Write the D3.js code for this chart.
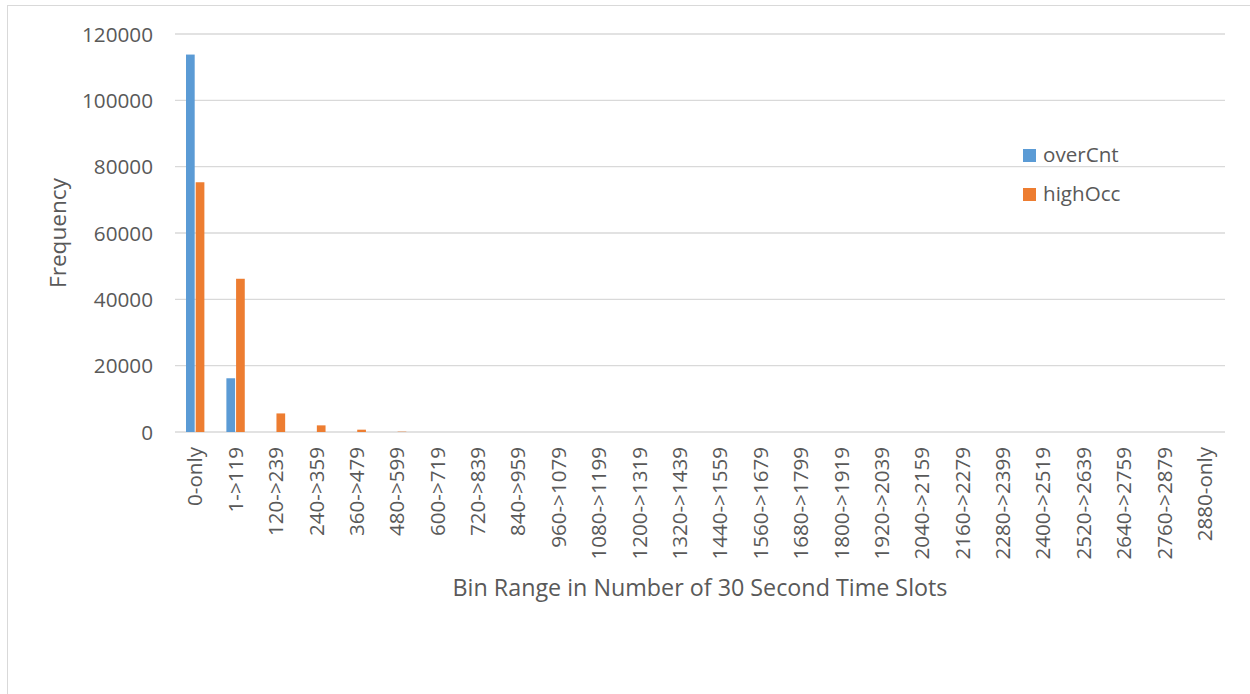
<!DOCTYPE html>
<html>
<head>
<meta charset="utf-8">
<script src="https://cdn.jsdelivr.net/npm/d3@7"></script>
<style>
  html, body { margin: 0; padding: 0; background: #fff; }
  svg { display: block; }
  text { font-family: "Open Sans", "Noto Sans", sans-serif; fill: #595959; }
</style>
</head>
<body>
<svg id="chart" width="1250" height="694"></svg>
<script>
const categories = ["0-only","1->119","120->239","240->359","360->479","480->599","600->719","720->839","840->959","960->1079","1080->1199","1200->1319","1320->1439","1440->1559","1560->1679","1680->1799","1800->1919","1920->2039","2040->2159","2160->2279","2280->2399","2400->2519","2520->2639","2640->2759","2760->2879","2880-only"];
const overCnt = [113800,16200,0,0,0,0,0,0,0,0,0,0,0,0,0,0,0,0,0,0,0,0,0,0,0,0];
const highOcc = [75300,46200,5600,2000,700,100,0,0,0,0,0,0,0,0,0,0,0,0,0,0,0,0,0,0,0,0];
const seriesNames = ["overCnt","highOcc"];
const seriesColors = ["#5B9BD5","#ED7D31"];
const yTicks = [0,20000,40000,60000,80000,100000,120000];
const xTitle = "Bin Range in Number of 30 Second Time Slots";
const yTitle = "Frequency";

const svg = d3.select("#chart");
const mLeft = 175, mRight = 1225, mTop = 34, mBottom = 432;

// chart frame
svg.append("rect").attr("x", 7.5).attr("y", 5.5).attr("width", 1260).attr("height", 700)
  .attr("fill", "#fff").attr("stroke", "#d9d9d9").attr("stroke-width", 1);

const x = d3.scaleBand().domain(categories).range([mLeft, mRight]).paddingInner(0.52).paddingOuter(0.26);
const xs = d3.scaleBand().domain(seriesNames).range([0, x.bandwidth()]);
const y = d3.scaleLinear().domain([0, 120000]).range([mBottom, mTop]);

// gridlines
svg.append("g").selectAll("line").data(yTicks).join("line")
  .attr("x1", mLeft).attr("x2", mRight)
  .attr("y1", d => y(d)).attr("y2", d => y(d))
  .attr("stroke", "#d9d9d9").attr("stroke-width", 1.3);

// y axis labels
const yAxis = d3.axisLeft(y).tickValues(yTicks).tickSize(0).tickPadding(0).tickFormat(d3.format("d"));
const yg = svg.append("g").attr("transform", `translate(${mLeft - 22},0)`).call(yAxis);
yg.select(".domain").remove();
yg.selectAll("text").attr("font-size", 20.7).attr("fill", "#595959")
  .style("font-family", '"Open Sans", sans-serif').attr("dy", "0.35em");

// bars
const data = [overCnt, highOcc];
const groups = svg.append("g").selectAll("g").data(seriesNames).join("g")
  .attr("fill", (d, i) => seriesColors[i]);
groups.selectAll("rect").data((s, i) => categories.map((c, j) => ({c, s, v: data[i][j]})))
  .join("rect")
  .attr("x", d => x(d.c) + xs(d.s) + 0.5)
  .attr("width", xs.bandwidth() - 1)
  .attr("y", d => y(d.v))
  .attr("height", d => y(0) - y(d.v));

// x axis labels
const xAxis = d3.axisBottom(x).tickSize(0).tickPadding(0);
const xg = svg.append("g").attr("transform", `translate(0,${mBottom})`).call(xAxis);
xg.select(".domain").remove();
xg.selectAll("text")
  .attr("font-size", 20.6).attr("fill", "#595959")
  .style("font-family", '"Open Sans", sans-serif')
  .attr("transform", "rotate(-90)")
  .attr("text-anchor", "end")
  .attr("x", -15).attr("y", 0).attr("dy", "0.35em");

// axis titles
svg.append("text").attr("x", (mLeft + mRight) / 2).attr("y", 596)
  .attr("text-anchor", "middle").attr("font-size", 23.3).text(xTitle);
svg.append("text").attr("transform", `translate(66,${(mTop + mBottom) / 2}) rotate(-90)`)
  .attr("text-anchor", "middle").attr("font-size", 22.6).text(yTitle);

// legend
const leg = svg.append("g").selectAll("g").data(seriesNames).join("g")
  .attr("transform", (d, i) => `translate(1023,${149 + i * 39})`);
leg.append("rect").attr("width", 13).attr("height", 13).attr("fill", (d, i) => seriesColors[i]);
leg.append("text").attr("x", 20).attr("y", 13).attr("font-size", 20.6).text(d => d);
</script>
</body>
</html>
